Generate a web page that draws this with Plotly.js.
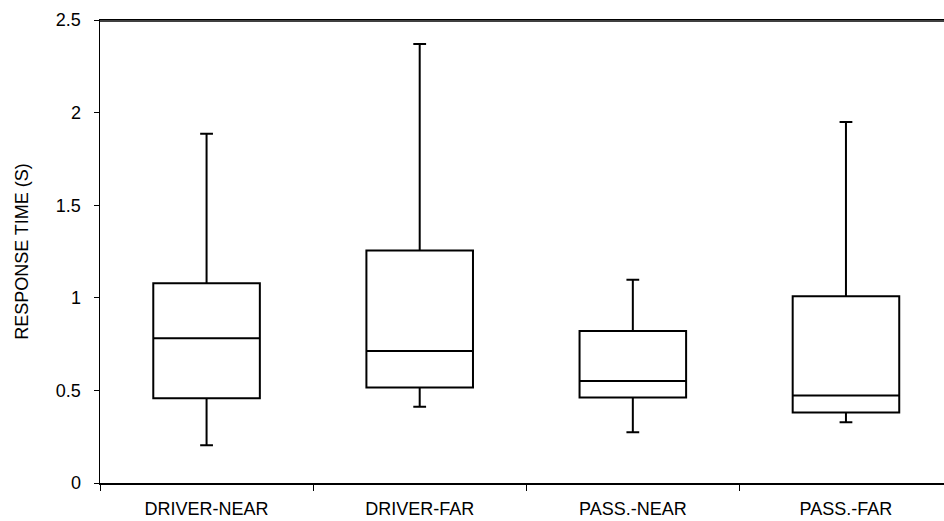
<!DOCTYPE html>
<html>
<head>
<meta charset="utf-8">
<script src="https://cdn.plot.ly/plotly-3.0.1.min.js"></script>
<style>html,body{margin:0;padding:0;background:#fff;}#chart{width:944px;height:521px;}</style>
</head>
<body>
<div id="chart"></div>
<script>
var categories = ["DRIVER-NEAR", "DRIVER-FAR", "PASS.-NEAR", "PASS.-FAR"];
var lowerWhisker = [0.204, 0.412, 0.274, 0.328];
var q1Values = [0.457, 0.515, 0.461, 0.380];
var medianValues = [0.781, 0.713, 0.551, 0.473];
var q3Values = [1.078, 1.256, 0.821, 1.008];
var upperWhisker = [1.886, 2.370, 1.098, 1.949];
var yTicks = [0, 0.5, 1, 1.5, 2, 2.5];
var yTickText = ["0", "0.5", "1", "1.5", "2", "2.5"];
var yTitle = "RESPONSE TIME (S)";

var trace = {
  type: "box",
  x: categories,
  q1: q1Values,
  median: medianValues,
  q3: q3Values,
  lowerfence: lowerWhisker,
  upperfence: upperWhisker,
  boxpoints: false,
  width: 0.5,
  whiskerwidth: 0.12,
  fillcolor: "#ffffff",
  line: {color: "#000000", width: 2},
  hoverinfo: "skip",
  showlegend: false
};

var font = {family: "Liberation Sans, Arial, sans-serif", size: 18, color: "#000"};

var layout = {
  width: 944,
  height: 521,
  margin: {l: 100, r: 0, t: 20, b: 38, pad: 0},
  paper_bgcolor: "#ffffff",
  plot_bgcolor: "#ffffff",
  font: font,
  showlegend: false,
  xaxis: {
    type: "category",
    range: [-0.5, 3.46],
    tickson: "boundaries",
    ticks: "outside",
    ticklen: 6,
    tickwidth: 1,
    tickcolor: "#000",
    showline: true,
    linecolor: "#000",
    linewidth: 1.5,
    mirror: true,
    showgrid: false,
    zeroline: false,
    tickfont: font,
    ticklabelstandoff: 9,
    fixedrange: true
  },
  yaxis: {
    range: [0, 2.5],
    tickvals: yTicks,
    ticktext: yTickText,
    ticks: "outside",
    ticklen: 5,
    tickwidth: 1,
    tickcolor: "#000",
    showline: true,
    linecolor: "#000",
    linewidth: 1.5,
    mirror: false,
    showgrid: false,
    zeroline: false,
    tickfont: font,
    ticklabelstandoff: 9,
    title: {text: yTitle, font: font, standoff: 22},
    fixedrange: true
  },
  shapes: [{
    type: "line", xref: "paper", yref: "paper", layer: "above",
    x0: 0, x1: 1, y0: 0.998, y1: 0.998,
    line: {color: "#000", width: 1.5}
  }]
};

Plotly.newPlot("chart", [trace], layout, {displayModeBar: false, staticPlot: true});
</script>
</body>
</html>
